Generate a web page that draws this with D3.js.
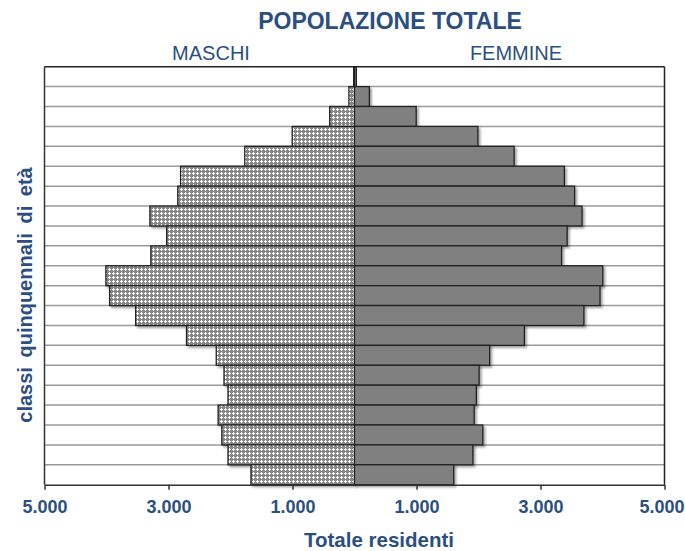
<!DOCTYPE html>
<html><head><meta charset="utf-8">
<script src="https://cdn.jsdelivr.net/npm/d3@7"></script>
<style>
body{margin:0;background:#fff;}
svg{display:block;font-family:"Liberation Sans",Arial,sans-serif;}
</style></head>
<body>
<svg id="c" width="685" height="551"></svg>
<script>
const categories = ["100+","95-99","90-94","85-89","80-84","75-79","70-74","65-69","60-64","55-59","50-54","45-49","40-44","35-39","30-34","25-29","20-24","15-19","10-14","5-9","0-4"];
const males   = [20, 90, 400, 1005, 1770, 2805, 2850, 3300, 3030, 3285, 4010, 3950, 3530, 2710, 2230, 2105, 2040, 2200, 2140, 2040, 1670];
const females = [30, 240, 995, 1990, 2575, 3385, 3550, 3670, 3430, 3340, 4005, 3960, 3700, 2740, 2180, 2010, 1965, 1930, 2070, 1910, 1600];
const tickValues = [-5000,-3000,-1000,1000,3000,5000];
const tickLabels = ["5.000","3.000","1.000","1.000","3.000","5.000"];

const blue = "#2b4f82";
const svg = d3.select("#c");
const pL = 44.5, pR = 664.5, pT = 66.7, pB = 484.7;

const x = d3.scaleLinear().domain([-5000,5000]).range([pL,pR]);
const y = d3.scaleBand().domain(categories).range([pT,pB]).padding(0);

const defs = svg.append("defs");
const pat = defs.append("pattern").attr("id","hatch").attr("patternUnits","userSpaceOnUse")
  .attr("width",4).attr("height",4);
pat.append("rect").attr("width",4).attr("height",4).attr("fill","#888888");
[[1,0],[0,1],[1,1],[2,1],[1,2]].forEach(p=>pat.append("rect").attr("x",p[0]).attr("y",p[1]).attr("width",1).attr("height",1).attr("fill","#ffffff"));
const f = defs.append("filter").attr("id","sh").attr("x","-10%").attr("y","-30%").attr("width","130%").attr("height","180%");
f.append("feDropShadow").attr("dx",2).attr("dy",2).attr("stdDeviation",1.3).attr("flood-color","#000").attr("flood-opacity",0.35);

// gridlines
svg.append("g").selectAll("line").data(categories.slice(1)).join("line")
  .attr("x1",pL).attr("x2",pR)
  .attr("y1",d=>y(d)).attr("y2",d=>y(d))
  .attr("stroke","#9a9a9a").attr("stroke-width",1.5);

// bars
const bars = svg.append("g");
bars.selectAll("rect.m").data(categories).join("rect").attr("class","m")
  .attr("x",(d,i)=>x(-males[i])).attr("y",d=>y(d))
  .attr("width",(d,i)=>x(0)-x(-males[i])).attr("height",y.bandwidth())
  .attr("fill","url(#hatch)").attr("stroke","#222").attr("stroke-width",1.3)
  .attr("filter","url(#sh)");
bars.selectAll("rect.f").data(categories).join("rect").attr("class","f")
  .attr("x",x(0)).attr("y",d=>y(d))
  .attr("width",(d,i)=>x(females[i])-x(0)).attr("height",y.bandwidth())
  .attr("fill","#808080").attr("stroke","#222").attr("stroke-width",1.3)
  .attr("filter","url(#sh)");

// frame
svg.append("line").attr("x1",pL).attr("x2",pR).attr("y1",pT).attr("y2",pT).attr("stroke","#222").attr("stroke-width",1.5);
svg.append("line").attr("x1",pR).attr("x2",pR).attr("y1",pT).attr("y2",pB).attr("stroke","#222").attr("stroke-width",1.5);
svg.append("line").attr("x1",pL).attr("x2",pL).attr("y1",pT).attr("y2",pB).attr("stroke","#333").attr("stroke-width",1.5);

// x axis
const ax = svg.append("g").attr("transform",`translate(0,${pB})`)
  .call(d3.axisBottom(x).tickValues(tickValues).tickSize(5).tickSizeOuter(0).tickFormat((d,i)=>tickLabels[i]));
ax.select(".domain").attr("stroke","#333").attr("stroke-width",1.5);
ax.selectAll(".tick line").attr("stroke","#333").attr("stroke-width",1.5);
ax.selectAll(".tick text").attr("fill",blue).attr("font-size","18px").attr("font-weight","bold")
  .attr("font-family","'Liberation Sans',Arial,sans-serif").attr("dy",null).attr("y",28)
  .attr("dx",(d,i)=> i===tickValues.length-1 ? -3 : 0);

// texts
svg.append("text").attr("x",390).attr("y",29.3).attr("text-anchor","middle")
  .attr("font-size","23px").attr("font-weight","bold").attr("fill",blue).text("POPOLAZIONE TOTALE");
svg.append("text").attr("x",211).attr("y",60).attr("text-anchor","middle")
  .attr("font-size","20px").attr("fill",blue).text("MASCHI");
svg.append("text").attr("x",516).attr("y",60).attr("text-anchor","middle")
  .attr("font-size","20px").attr("fill",blue).text("FEMMINE");
svg.append("text").attr("x",379).attr("y",547).attr("text-anchor","middle")
  .attr("font-size","20.5px").attr("font-weight","bold").attr("fill",blue).text("Totale residenti");
svg.append("text").attr("transform","translate(31.5,295) rotate(-90)").attr("text-anchor","middle")
  .attr("font-size","20px").attr("font-weight","bold").attr("fill",blue)
  .style("word-spacing","4px").text("classi quinquennali di età");
</script>
</body></html>
